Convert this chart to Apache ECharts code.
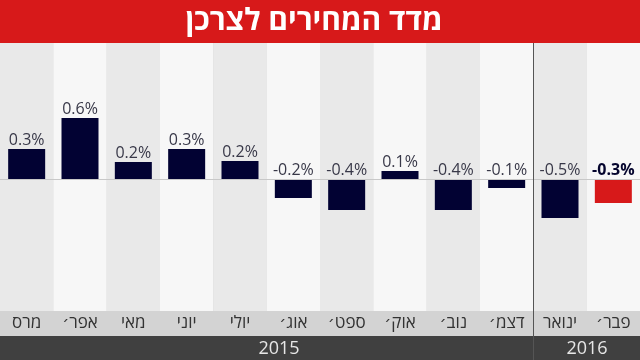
<!DOCTYPE html>
<html><head><meta charset="utf-8">
<script src="https://cdn.jsdelivr.net/npm/echarts@6/dist/echarts.min.js"></script>
<style>html,body{margin:0;padding:0;background:#fff}#c{width:640px;height:360px}</style>
</head><body><div id="c"></div>
<script>
const title = 'מדד המחירים לצרכן';
const categories = ['מרס','אפר׳','מאי','יוני','יולי','אוג׳','ספט׳','אוק׳','נוב׳','דצמ׳','ינואר','פבר׳'];
const values = [0.30, 0.61, 0.17, 0.30, 0.18, -0.19, -0.31, 0.08, -0.31, -0.09, -0.39, -0.24];
const valueLabels = ['0.3%','0.6%','0.2%','0.3%','0.2%','-0.2%','-0.4%','0.1%','-0.4%','-0.1%','-0.5%','-0.3%'];
const years = ['2015','2016'];

const chart = echarts.init(document.getElementById('c'), null, {renderer:'canvas'});
const FONT = '"Open Sans", "DejaVu Sans", sans-serif';
const last = values.length - 1;
const data = values.map((v,i)=>{
  const item = {value:v};
  if(i===last){
    item.itemStyle = {color:'#d7191a'};
    item.label = {fontWeight:'bold', color:'#05052e'};
  }
  return item;
});
chart.setOption({
  backgroundColor:'#d3d3d3',
  animation:false,
  grid:{left:0,right:0,top:43,bottom:49},
  xAxis:{type:'category',data:categories,
    axisLine:{show:false},axisTick:{show:false},
    splitArea:{show:true,interval:0,areaStyle:{color:['#e9e9e9','#f7f7f7']}},
    axisLabel:{interval:0,margin:4,fontSize:17,color:'#333',fontFamily:FONT}},
  yAxis:{type:'value',min:-1.32,max:1.36,show:false,splitLine:{show:false}},
  series:[{type:'bar',data:data,barWidth:37,
    itemStyle:{color:'#020233'},
    label:{show:true,position:'top',distance:1,fontSize:16,color:'#383848',fontFamily:FONT,
      formatter:p=>valueLabels[p.dataIndex]},
    markLine:{silent:true,symbol:'none',label:{show:false},
      lineStyle:{color:'#c8c8c8',width:1,type:'solid'},data:[{yAxis:0}]}
  }],
  graphic:[
    {type:'rect',shape:{x:0,y:0,width:640,height:43},style:{fill:'#d7191a'}},
    {type:'text',x:314,y:21,style:{text:title,fill:'#fff',font:'bold 30px '+FONT,textAlign:'center',textVerticalAlign:'middle'}},
    {type:'rect',shape:{x:0,y:336,width:640,height:24},style:{fill:'#404040'}},
    {type:'text',x:279,y:349,style:{text:years[0],fill:'#e6e6e6',font:'18px '+FONT,textAlign:'center',textVerticalAlign:'middle'}},
    {type:'text',x:587,y:349,style:{text:years[1],fill:'#e6e6e6',font:'18px '+FONT,textAlign:'center',textVerticalAlign:'middle'}},
    {type:'line',shape:{x1:533.5,y1:43,x2:533.5,y2:360},style:{stroke:'#555',lineWidth:1},z:100}
  ]
});
</script></body></html>
